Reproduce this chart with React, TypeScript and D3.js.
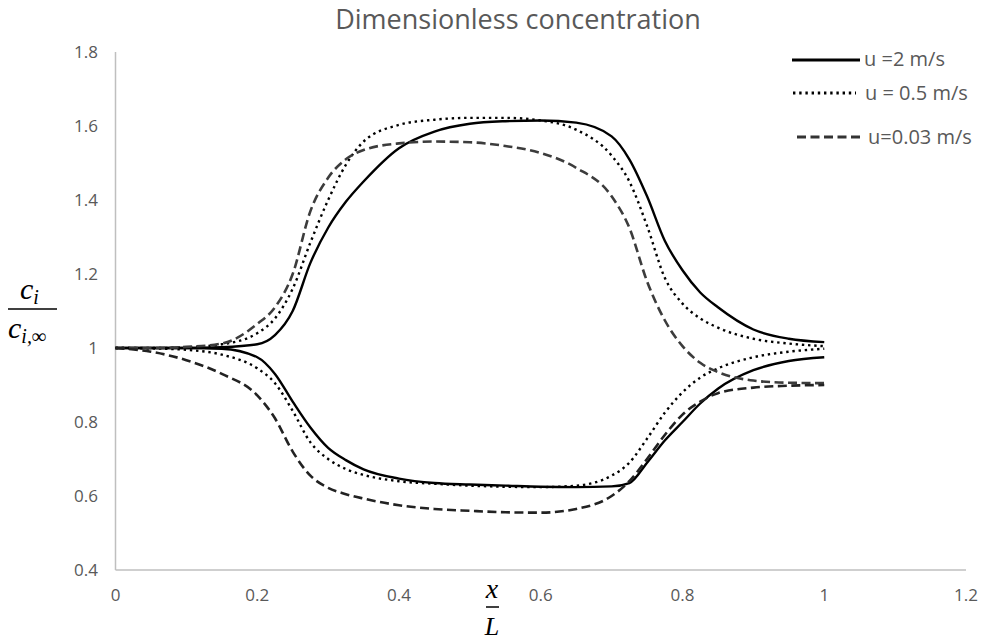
import React from "react";
import * as d3 from "d3";

const xs = [0, 0.05, 0.1, 0.15, 0.2, 0.225, 0.25, 0.275, 0.3, 0.325, 0.35, 0.4, 0.45, 0.5, 0.55, 0.6, 0.65, 0.7, 0.725, 0.75, 0.775, 0.8, 0.825, 0.85, 0.9, 0.95, 1.0];

const u2Upper = [1.0, 1.0, 1.0, 1.002, 1.01, 1.035, 1.1, 1.23, 1.325, 1.395, 1.45, 1.54, 1.585, 1.606, 1.613, 1.615, 1.609, 1.572, 1.51, 1.41, 1.29, 1.21, 1.15, 1.11, 1.05, 1.025, 1.016];
const u2Lower = [1.0, 1.0, 1.0, 0.998, 0.975, 0.93, 0.855, 0.785, 0.73, 0.697, 0.672, 0.647, 0.635, 0.631, 0.628, 0.625, 0.624, 0.626, 0.635, 0.69, 0.75, 0.8, 0.85, 0.89, 0.94, 0.965, 0.975];
const u05Upper = [1.0, 1.0, 1.002, 1.01, 1.04, 1.08, 1.16, 1.285, 1.4, 1.495, 1.558, 1.603, 1.617, 1.622, 1.622, 1.615, 1.59, 1.52, 1.45, 1.33, 1.19, 1.12, 1.08, 1.055, 1.025, 1.012, 1.005];
const u05Lower = [1.0, 0.999, 0.995, 0.982, 0.945, 0.905, 0.83, 0.745, 0.7, 0.673, 0.657, 0.64, 0.633, 0.628, 0.625, 0.624, 0.628, 0.655, 0.69, 0.755, 0.825, 0.88, 0.92, 0.945, 0.975, 0.99, 0.998];
const u003Upper = [1.0, 1.0, 1.003, 1.012, 1.065, 1.11, 1.2, 1.37, 1.46, 1.51, 1.535, 1.553, 1.558, 1.556, 1.546, 1.527, 1.487, 1.41, 1.325, 1.18, 1.075, 1.005, 0.96, 0.935, 0.912, 0.906, 0.905];
const u003Lower = [1.0, 0.99, 0.967, 0.93, 0.872, 0.81, 0.72, 0.655, 0.622, 0.605, 0.593, 0.575, 0.565, 0.56, 0.556, 0.555, 0.565, 0.6, 0.64, 0.7, 0.765, 0.82, 0.855, 0.878, 0.893, 0.898, 0.9];

const xTicks = [0, 0.2, 0.4, 0.6, 0.8, 1, 1.2];
const yTicks = [0.4, 0.6, 0.8, 1, 1.2, 1.4, 1.6, 1.8];
const legendLabels = ["u =2 m/s", "u = 0.5 m/s", "u=0.03 m/s"];
const title = "Dimensionless concentration";

const W = 990;
const H = 643;
const FONT = "'Open Sans', 'Liberation Sans', sans-serif";
const MATH = "'Liberation Serif', 'DejaVu Serif', serif";
const GRAY = "#595959";

export default function App() {
  const x = d3.scaleLinear().domain([0, 1.2]).range([115.5, 966]);
  const y = d3.scaleLinear().domain([0.4, 1.8]).range([570, 52]);

  const line = d3
    .line<number>()
    .x((_, i) => x(xs[i]))
    .y((d) => y(d))
    .curve(d3.curveMonotoneX);

  const solid = { stroke: "#000", strokeWidth: 2.4, dash: undefined as string | undefined };
  const dotted = { stroke: "#000", strokeWidth: 2.4, dash: "2.4 3.8" };
  const dashed = { stroke: "#333", strokeWidth: 2.6, dash: "9 4.5" };

  const series = [
    { d: u2Upper, s: solid },
    { d: u2Lower, s: solid },
    { d: u05Upper, s: dotted },
    { d: u05Lower, s: dotted },
    { d: u003Upper, s: { ...dashed, stroke: "#3c3c3c" } },
    { d: u003Lower, s: { ...dashed, stroke: "#222" } },
  ];

  const fmt = (v: number) => String(Math.round(v * 10) / 10);

  const legend = [
    { label: legendLabels[0], s: solid, x1: 792, x2: 860, ly: 60, tx: 864, ty: 66 },
    { label: legendLabels[1], s: dotted, x1: 793, x2: 856, ly: 93, tx: 865, ty: 100 },
    { label: legendLabels[2], s: dashed, x1: 797, x2: 863, ly: 137, tx: 868, ty: 144 },
  ];

  return (
    <svg
      width={W}
      height={H}
      viewBox={`0 0 ${W} ${H}`}
      style={{ position: "absolute", left: 0, top: 0, display: "block", background: "#fff" }}
    >
      <rect x={0} y={0} width={W} height={H} fill="#fff" />
      <text x={518} y={29} textAnchor="middle" fontFamily={FONT} fontSize={27} fill={GRAY}>
        {title}
      </text>

      {/* axes */}
      <line x1={x(0)} x2={x(0)} y1={y(1.8)} y2={y(0.4)} stroke="#bfbfbf" strokeWidth={1.5} />
      <line x1={x(0)} x2={x(1.2)} y1={y(0.4)} y2={y(0.4)} stroke="#bfbfbf" strokeWidth={1.5} />

      {yTicks.map((t) => (
        <text key={"y" + t} x={98} y={y(t) + 6} textAnchor="end" fontFamily={FONT} fontSize={17} fill={GRAY}>
          {fmt(t)}
        </text>
      ))}
      {xTicks.map((t) => (
        <text key={"x" + t} x={x(t)} y={601} textAnchor="middle" fontFamily={FONT} fontSize={17} fill={GRAY}>
          {fmt(t)}
        </text>
      ))}

      {/* series */}
      {series.map((ser, i) => (
        <path
          key={i}
          d={line(ser.d) || ""}
          fill="none"
          stroke={ser.s.stroke}
          strokeWidth={ser.s.strokeWidth}
          strokeDasharray={ser.s.dash}
        />
      ))}

      {/* legend */}
      {legend.map((l, i) => (
        <g key={i}>
          <line
            x1={l.x1}
            x2={l.x2}
            y1={l.ly}
            y2={l.ly}
            stroke={l.s.stroke}
            strokeWidth={i === 0 ? 3.2 : 3}
            strokeDasharray={l.s.dash}
          />
          <text x={l.tx} y={l.ty} fontFamily={FONT} fontSize={20} fill={GRAY}>
            {l.label}
          </text>
        </g>
      ))}

      {/* y-axis label c_i / c_{i,inf} */}
      <text x={20} y={299} fontFamily={MATH} fontStyle="italic" fontSize={30} fill="#000">
        c<tspan fontSize={20} dy={5}>i</tspan>
      </text>
      <line x1={8} x2={57} y1={309} y2={309} stroke="#000" strokeWidth={1.5} />
      <text x={8} y={338} fontFamily={MATH} fontStyle="italic" fontSize={30} fill="#000">
        c<tspan fontSize={20} dy={5}>i,∞</tspan>
      </text>

      {/* x-axis label x / L */}
      <text x={492} y={598} textAnchor="middle" fontFamily={MATH} fontStyle="italic" fontSize={28} fill="#000">
        x
      </text>
      <line x1={486} x2={499} y1={607} y2={607} stroke="#000" strokeWidth={1.5} />
      <text x={492} y={635} textAnchor="middle" fontFamily={MATH} fontStyle="italic" fontSize={26} fill="#000">
        L
      </text>
    </svg>
  );
}
